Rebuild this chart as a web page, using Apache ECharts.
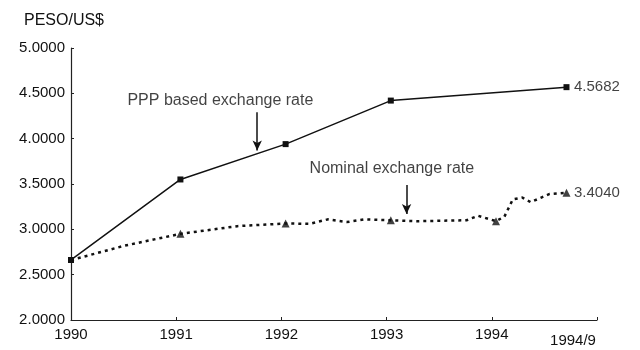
<!DOCTYPE html>
<html><head><meta charset="utf-8">
<script src="https://cdn.jsdelivr.net/npm/echarts@6/dist/echarts.min.js"></script>
<style>html,body{margin:0;padding:0;background:#fff}#c{width:640px;height:350px}</style>
</head><body><div id="c"></div>
<script>
// x tick labels (years), last tick labelled as 1994/9
const xTicks = [1990, 1991, 1992, 1993, 1994, 1995];
const xTickLabels = ['1990', '1991', '1992', '1993', '1994', '1994/9'];
// PPP based exchange rate (annual points)
const pppX = [1990.0, 1991.04, 1992.04, 1993.04, 1994.71];
const pppY = [2.662, 3.55, 3.94, 4.42, 4.5682];
// Nominal exchange rate (monthly-ish trace)
const nomX = [1990.0, 1990.11, 1990.51, 1991.04, 1991.58, 1992.04, 1992.27, 1992.44, 1992.62, 1992.79, 1993.03, 1993.29, 1993.76, 1993.87, 1994.04, 1994.12, 1994.20, 1994.29, 1994.37, 1994.47, 1994.55, 1994.71];
const nomY = [2.662, 2.695, 2.82, 2.95, 3.035, 3.065, 3.06, 3.11, 3.08, 3.11, 3.10, 3.09, 3.10, 3.15, 3.09, 3.14, 3.33, 3.35, 3.30, 3.35, 3.39, 3.404];
// Nominal annual markers
const nomMarkX = [1991.04, 1992.04, 1993.04, 1994.04, 1994.71];
const nomMarkY = [2.95, 3.065, 3.10, 3.09, 3.404];
// Annotation texts and their anchor points
const notes = [
  {x: 1991.42, y: 4.42, text: 'PPP based exchange rate', pos: 'inside', size: 16},
  {x: 1994.71, y: 4.5682, text: '4.5682', pos: 'right', size: 15},
  {x: 1993.05, y: 3.665, text: 'Nominal exchange rate', pos: 'inside', size: 16},
  {x: 1994.71, y: 3.404, text: '3.4040', pos: 'right', size: 15}
];
const yMin = 2, yMax = 5, yStep = 0.5;

const font = 'Liberation Sans, Arial, sans-serif';
const txt = {color: '#111', fontFamily: font, fontSize: 15};
const chart = echarts.init(document.getElementById('c'), null, {renderer: 'canvas'});
chart.setOption({
  animation: false,
  grid: {left: 71, right: 43, top: 48, bottom: 30},
  xAxis: {
    type: 'value', min: xTicks[0], max: xTicks[xTicks.length - 1], interval: 1,
    splitLine: {show: false},
    axisLine: {lineStyle: {color: '#222', width: 1.2}},
    axisTick: {inside: true, length: 3, lineStyle: {color: '#222'}},
    axisLabel: Object.assign({}, txt, {
      margin: 7,
      formatter: v => {
        const i = xTicks.indexOf(v);
        if (i === xTicks.length - 1) return '{s|' + xTickLabels[i] + '}';
        return i >= 0 ? xTickLabels[i] : '';
      },
      rich: {s: {fontFamily: font, fontSize: 15, color: '#111', padding: [6, 48, 0, 0]}}
    })
  },
  yAxis: {
    type: 'value', min: yMin, max: yMax, interval: yStep,
    name: 'PESO/US$', nameLocation: 'end', nameGap: 19,
    nameTextStyle: Object.assign({}, txt, {fontSize: 16, align: 'center', padding: [0, 14, 0, 0]}),
    splitLine: {show: false},
    axisLine: {show: true, lineStyle: {color: '#222', width: 1.2}},
    axisTick: {show: true, inside: true, length: 3, lineStyle: {color: '#222'}},
    axisLabel: Object.assign({}, txt, {margin: 6, formatter: v => v.toFixed(4)})
  },
  series: [
    {
      type: 'line', name: 'PPP',
      data: pppX.map((x, i) => [x, pppY[i]]),
      symbol: 'rect', symbolSize: 6, showAllSymbol: true,
      lineStyle: {color: '#111', width: 1.5},
      itemStyle: {color: '#111'},
      markLine: {
        silent: true, symbol: ['none', 'arrow'], symbolSize: [7, 10],
        label: {show: false},
        lineStyle: {color: '#111', width: 1.5, type: 'solid'},
        data: [
          [{coord: [1991.77, 4.29]}, {coord: [1991.77, 3.87]}],
          [{coord: [1993.19, 3.49]}, {coord: [1993.19, 3.17]}]
        ]
      }
    },
    {
      type: 'line', name: 'Nominal',
      data: nomX.map((x, i) => [x, nomY[i]]),
      symbol: 'none',
      lineStyle: {color: '#111', width: 2.5, type: [3, 4]}
    },
    {
      type: 'scatter', name: 'NominalMarks',
      data: nomMarkX.map((x, i) => [x, nomMarkY[i]]),
      symbol: 'triangle', symbolSize: 8,
      itemStyle: {color: '#111'}
    },
    {
      type: 'scatter', name: 'Notes', silent: true,
      symbolSize: 1, itemStyle: {color: 'rgba(0,0,0,0)'},
      data: notes.map(n => ({
        value: [n.x, n.y],
        label: Object.assign({}, txt, {
          show: true, position: n.pos, formatter: n.text, fontSize: n.size,
          offset: n.pos === 'right' ? [2, 0] : [0, 0]
        })
      }))
    }
  ]
});
</script></body></html>
